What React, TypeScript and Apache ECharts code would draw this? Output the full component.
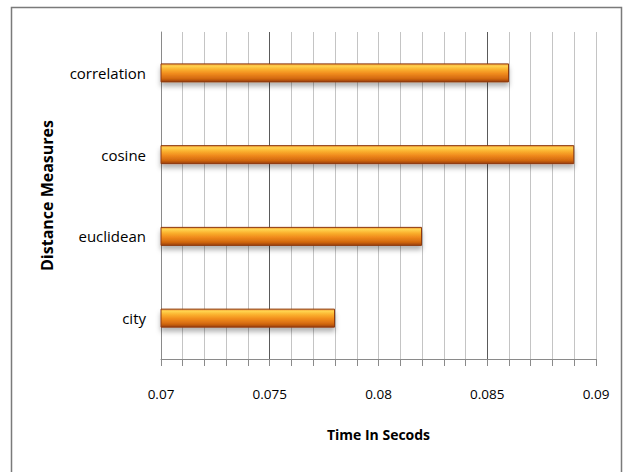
import React, { useEffect, useRef } from "react";
import * as echarts from "echarts";

// Distance measures, listed bottom-to-top as the category axis draws them
const measures = ["city", "euclidean", "cosine", "correlation"];
// Time taken by each measure, in seconds
const timesSec = [0.078, 0.082, 0.089, 0.086];
const axisMin = 0.07;
const axisMax = 0.09;
const minorStep = 0.001;

const FONT = "'Open Sans', 'Liberation Sans', sans-serif";

export default function App() {
  const ref = useRef<HTMLDivElement>(null);

  useEffect(() => {
    if (!ref.current) return;
    const chart = echarts.init(ref.current, undefined, { renderer: "svg" });

    // every 10th minor gridline, offset by 5, is a darker major line (0.075, 0.085)
    const gridColors = Array.from({ length: 10 }, (_, i) => (i === 5 ? "#5a5a5a" : "#c4c4c4"));

    const isLabelStep = (v: number) => Math.abs(Math.round(v * 1000) % 5) === 0;

    chart.setOption({
      animation: false,
      backgroundColor: "#ffffff",
      graphic: [
        {
          type: "rect",
          shape: { x: 11.5, y: 7.5, width: 610, height: 500 },
          style: { fill: "none", stroke: "#7a7a7a", lineWidth: 1.5 },
          silent: true,
          z: 0,
        },
      ],
      grid: { left: 161, right: 35, top: 32, bottom: 113, containLabel: false },
      xAxis: {
        type: "value",
        min: axisMin,
        max: axisMax,
        interval: minorStep,
        name: "Time In Secods",
        nameLocation: "middle",
        nameGap: 68,
        nameTextStyle: { fontFamily: FONT, fontWeight: "bold", fontSize: 14, color: "#000" },
        axisLine: { show: true, lineStyle: { color: "#8a8a8a", width: 1 } },
        axisTick: {
          show: true,
          length: 7,
          interval: (index: number) => index % 5 === 0,
          lineStyle: { color: "#8a8a8a" },
        },
        splitLine: { show: true, lineStyle: { color: gridColors, width: 1 } },
        axisLabel: {
          margin: 28,
          fontFamily: FONT,
          fontSize: 13.5,
          color: "#000",
          showMinLabel: true,
          showMaxLabel: true,
          formatter: (v: number) => (isLabelStep(v) ? String(parseFloat(v.toFixed(3))) : ""),
        },
      },
      yAxis: {
        type: "category",
        data: measures,
        name: "Distance Measures",
        nameLocation: "middle",
        nameGap: 106,
        nameRotate: 90,
        nameTextStyle: { fontFamily: FONT, fontWeight: "bold", fontSize: 16, color: "#000" },
        axisLine: { show: true, lineStyle: { color: "#8a8a8a" } },
        axisTick: { show: false },
        axisLabel: { margin: 15, fontFamily: FONT, fontSize: 15, color: "#000" },
      },
      series: [
        {
          type: "bar",
          data: timesSec,
          barWidth: 19,
          itemStyle: {
            color: new echarts.graphic.LinearGradient(0, 0, 0, 1, [
              { offset: 0, color: "#f29a36" },
              { offset: 0.12, color: "#ffd34f" },
              { offset: 0.3, color: "#fbb22f" },
              { offset: 0.55, color: "#f08a1c" },
              { offset: 0.82, color: "#d2680f" },
              { offset: 1, color: "#9a3f10" },
            ]),
            borderColor: "#8e3a10",
            borderWidth: 1,
            shadowColor: "rgba(0,0,0,0.3)",
            shadowBlur: 5,
            shadowOffsetY: 4,
          },
        },
      ],
    });

    return () => chart.dispose();
  }, []);

  return (
    <div
      ref={ref}
      style={{ position: "fixed", left: 0, top: 0, width: 631, height: 472, background: "#fff" }}
    />
  );
}
